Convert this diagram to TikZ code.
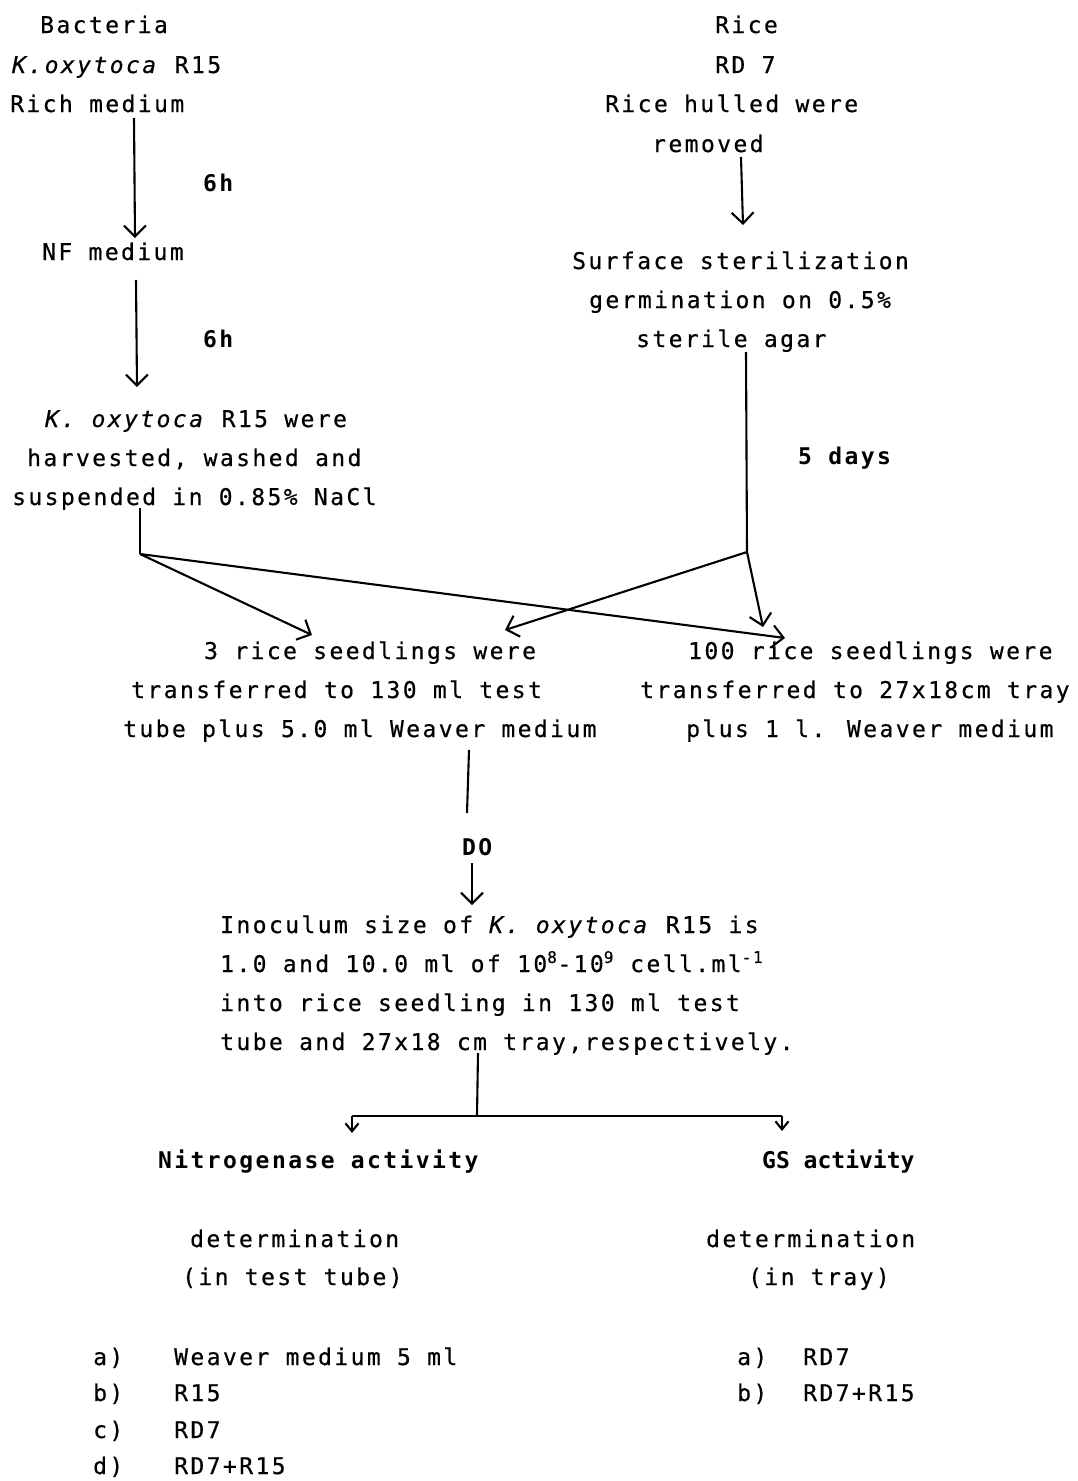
\documentclass[tikz,border=0pt]{standalone}
\usepackage{fontspec}
\setmainfont{DejaVu Sans Mono}[LetterSpace=10.5,
  UprightFeatures={FakeBold=0.5}, ItalicFeatures={FakeBold=0.5}]
\usetikzlibrary{arrows.meta}
\begin{document}
\begin{tikzpicture}[x=1pt,y=-1pt,
  txt/.style={anchor=base west, inner sep=0pt, font=\fontsize{23}{39}\selectfont},
  bold/.style={txt, font=\fontsize{23}{39}\selectfont\bfseries},
  ln/.style={line width=2.1pt},
  arr/.style={ln, -{Straight Barb[length=11pt,width=22pt]}},
  sarr/.style={ln, -{Straight Barb[length=8pt,width=13pt]}}]
\useasboundingbox[fill=white] (0,0) rectangle (1077,1481);
% left column
\node[txt] (bact) at (40,33) {Bacteria};
\node[txt] (kox) at (12,73) {\textit{K.oxytoca} R15};
\node[txt] (rich) at (10,112) {Rich medium};
\node[bold] (h1) at (203,191) {6h};
\node[txt] (nf) at (42,260) {NF medium};
\node[bold] (h2) at (203,347) {6h};
\node[txt] (k1) at (45,427) {\textit{K. oxytoca} R15 were};
\node[txt] (k2) at (27,466) {harvested, washed and};
\node[txt] (k3) at (12,505) {suspended in 0.85\% NaCl};
% right column
\node[txt] (rice) at (715,33) {Rice};
\node[txt] (rd) at (715,73) {RD 7};
\node[txt] (hull) at (605,112) {Rice hulled were};
\node[txt] (rem) at (652,152) {removed};
\node[txt] (s1) at (572,269) {Surface sterilization};
\node[txt] (s2) at (589,308) {germination on 0.5\%};
\node[txt] (s3) at (636,347) {sterile agar};
\node[bold] (days) at (798,464) {5 days};
% seedlings
\node[txt] (t1) at (204,659) {3 rice seedlings were};
\node[txt] (t2) at (131,698) {transferred to 130 ml test};
\node[txt] (t3) at (123,737) {tube plus 5.0 ml Weaver medium};
\node[txt] (u1) at (688,659) {100 rice seedlings were};
\node[txt] (u2) at (640,698) {transferred to 27x18cm tray};
\node[txt] (u3) at (686,737) {plus 1 l. Weaver medium};
% inoculum
\node[bold] (do) at (462,855) {DO};
\node[txt] (i1) at (220,933) {Inoculum size of \textit{K. oxytoca} R15 is};
\node[txt] (i2) at (220,972) {1.0 and 10.0 ml of 10\textsuperscript{8}-10\textsuperscript{9} cell.ml\textsuperscript{-1}};
\node[txt] (i3) at (220,1011) {into rice seedling in 130 ml test};
\node[txt] (i4) at (220,1050) {tube and 27x18 cm tray,respectively.};
% results
\node[bold] (nit) at (158,1168) {Nitrogenase activity};
\node[bold] (gs) at (762,1168) {\addfontfeatures{LetterSpace=0}GS activity};
\node[txt] (d1) at (190,1247) {determination};
\node[txt] (d2) at (182,1285) {(in test tube)};
\node[txt] (e1) at (706,1247) {determination};
\node[txt] (e2) at (748,1285) {(in tray)};
\node[txt] (la) at (93,1365) {a)};
\node[txt] (lat) at (174,1365) {Weaver medium 5 ml};
\node[txt] (lb) at (93,1401) {b)};
\node[txt] (lbt) at (174,1401) {R15};
\node[txt] (lc) at (93,1438) {c)};
\node[txt] (lct) at (174,1438) {RD7};
\node[txt] (ld) at (93,1474) {d)};
\node[txt] (ldt) at (174,1474) {RD7+R15};
\node[txt] (ra) at (737,1365) {a)};
\node[txt] (rat) at (803,1365) {RD7};
\node[txt] (rb) at (737,1401) {b)};
\node[txt] (rbt) at (803,1401) {RD7+R15};
% connector points
\coordinate (p1) at (134,118);  \coordinate (p1e) at (135,238);
\coordinate (p2) at (136,280);  \coordinate (p2e) at (137,387);
\coordinate (p3) at (741,157);  \coordinate (p3e) at (743,225);
\coordinate (p4) at (140,508);  \coordinate (jl) at (140,554);
\coordinate (p5) at (746,352);  \coordinate (jr) at (747,552);
\coordinate (tA) at (312,635);  \coordinate (tB) at (785,638);
\coordinate (tC) at (505,630);  \coordinate (tD) at (763,627);
\coordinate (p6) at (469,750);  \coordinate (p6e) at (467,813);
\coordinate (p7) at (472,863);  \coordinate (p7e) at (472,905);
\coordinate (p8) at (478,1053); \coordinate (jb) at (477,1116);
\coordinate (bl) at (352,1116); \coordinate (br) at (782,1116);
\coordinate (ble) at (352,1133); \coordinate (bre) at (782,1131);
% connectors
\draw[arr] (p1) -- (p1e);
\draw[arr] (p2) -- (p2e);
\draw[arr] (p3) -- (p3e);
\draw[ln] (p4) -- (jl);
\draw[arr] (jl) -- (tA);
\draw[arr] (jl) -- (tB);
\draw[ln] (p5) -- (jr);
\draw[arr] (jr) -- (tC);
\draw[arr] (jr) -- (tD);
\draw[ln] (p6) -- (p6e);
\draw[arr] (p7) -- (p7e);
\draw[ln] (p8) -- (jb);
\draw[ln] (bl) -- (br);
\draw[sarr] (bl) -- (ble);
\draw[sarr] (br) -- (bre);
\end{tikzpicture}
\end{document}
